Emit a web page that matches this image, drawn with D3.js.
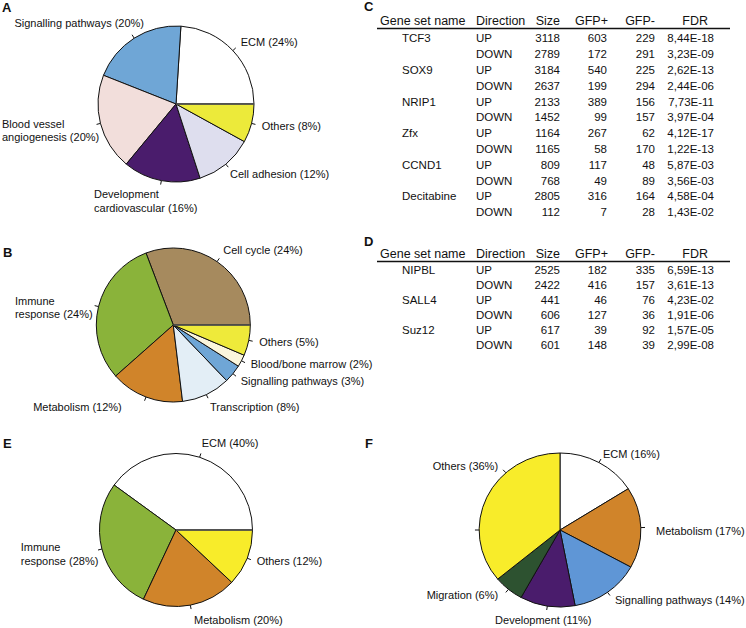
<!DOCTYPE html>
<html><head><meta charset="utf-8">
<script src="https://cdn.jsdelivr.net/npm/d3@7"></script>
<style>
body{margin:0;background:#fff}
text{font-family:Arial,"Liberation Sans",sans-serif;fill:#111}
</style>
</head><body>
<svg id="c" width="746" height="628"></svg>
<script>
// ---------- DATA ----------
// Panel A
const catA = ["ECM (24%)","Signalling pathways (20%)","Blood vessel\nangiogenesis (20%)","Development\ncardiovascular (16%)","Cell adhesion (12%)","Others (8%)"];
const valA = [24,20,20,16,12,8];
// Panel B
const catB = ["Cell cycle (24%)","Immune\nresponse (24%)","Metabolism (12%)","Transcription (8%)","Signalling pathways (3%)","Blood/bone marrow (2%)","Others (5%)"];
const valB = [24,24,12,8,3,2,5];
// Panel E
const catE = ["ECM (40%)","Immune\nresponse (28%)","Metabolism (20%)","Others (12%)"];
const valE = [40,28,20,12];
// Panel F
const catF = ["ECM (16%)","Metabolism (17%)","Signalling pathways (14%)","Development (11%)","Migration (6%)","Others (36%)"];
const valF = [16,17,14,11,6,36];

// Table C
const headers = ["Gene set name","Direction","Size","GFP+","GFP-","FDR"];
const directions = ["UP","DOWN"];
const genesC = ["TCF3","SOX9","NRIP1","Zfx","CCND1","Decitabine"];
const sizeC = [3118,2789,3184,2637,2133,1452,1164,1165,809,768,2805,112];
const gfpPlusC = [603,172,540,199,389,99,267,58,117,49,316,7];
const gfpMinusC = [229,291,225,294,156,157,62,170,48,89,164,28];
const fdrC = ["8,44E-18","3,23E-09","2,62E-13","2,44E-06","7,73E-11","3,97E-04","4,12E-17","1,22E-13","5,87E-03","3,56E-03","4,58E-04","1,43E-02"];
// Table D
const genesD = ["NIPBL","SALL4","Suz12"];
const sizeD = [2525,2422,441,606,617,601];
const gfpPlusD = [182,416,46,127,39,148];
const gfpMinusD = [335,157,76,36,92,39];
const fdrD = ["6,59E-13","3,61E-13","4,23E-02","1,91E-06","1,57E-05","2,99E-08"];

// ---------- STYLE / LAYOUT ----------
const colA = ["#ffffff","#6fa6d6","#f2dedb","#4a1c6c","#dedeee","#ecea3a"];
const colB = ["#a68a5e","#8ab33a","#d0842a","#e3eef6","#6fa6d6","#fbf6dc","#eeea3a"];
const colE = ["#ffffff","#8ab33a","#d0842a","#f8ec2a"];
const colF = ["#ffffff","#d0842a","#5f96d6","#4a1c6c","#2d5230","#f8ec2a"];

const svg = d3.select("#c");

function drawPie(spec){
  const g = svg.append("g");
  const sx = spec.sx || 1;
  const pie = d3.pie().sort(null).value(d=>d);
  if(spec.ccw) pie.startAngle(Math.PI/2).endAngle(Math.PI/2 - 2*Math.PI);
  const arcs = pie(spec.values);
  const arc = d3.arc().innerRadius(0).outerRadius(spec.r);
  const pg = g.append("g").attr("transform",`translate(${spec.cx},${spec.cy}) scale(${sx},1)`);
  pg.selectAll("path").data(arcs).join("path")
    .attr("d",arc).attr("fill",(d,i)=>spec.colors[i])
    .attr("stroke","#111").attr("stroke-width",1).attr("stroke-linejoin","round")
    .attr("vector-effect","non-scaling-stroke");
  if(spec.ccw){
    pg.append("line").attr("x1",0).attr("y1",0).attr("x2",spec.r).attr("y2",0)
      .attr("stroke","#555").attr("stroke-width",1.6).attr("vector-effect","non-scaling-stroke");
  }
  const pt=(a,R)=>[spec.cx+R*Math.sin(a)*sx, spec.cy-R*Math.cos(a)];
  const tick=(a)=>{
    const p0=pt(a,spec.r), p1=pt(a,spec.r+4);
    g.append("line").attr("x1",p0[0]).attr("y1",p0[1]).attr("x2",p1[0]).attr("y2",p1[1])
      .attr("stroke","#111").attr("stroke-width",1);
    return p1;
  };
  arcs.forEach((d,i)=>{
    const ov = spec.tickAngles && spec.tickAngles[i]!=null;
    const a = ov ? spec.tickAngles[i]*Math.PI/180 : (d.startAngle+d.endAngle)/2;
    const p1 = tick(a);
    const off = spec.offsets[i];
    const x = p1[0]+off[0], y = p1[1]+off[1];
    const t = g.append("text").attr("font-size",11).attr("text-anchor",off[2]);
    spec.labels[i].split("\n").forEach((l,j)=>{
      t.append("tspan").attr("x",x).attr("y",y+j*13.5).text(l);
    });
  });
  (spec.extraTicks||[]).forEach(a=>tick(a*Math.PI/180));
}

drawPie({cx:176,cy:104,r:78,ccw:true,values:valA,colors:colA,labels:catA,
  offsets:[[5,-1.5,"start"],[12,-7.8,"end"],[-94.6,3.6,"start"],[-66.6,13.8,"start"],[1.8,10.8,"start"],[6.3,5.6,"start"]]});
drawPie({cx:173.3,cy:325,r:77,ccw:true,values:valB,colors:colB,labels:catB,
  offsets:[[4,-4.3,"start"],[-79.7,-1,"start"],[-22.8,10.6,"end"],[2,13.2,"start"],[4.6,8.8,"start"],[5.7,5.3,"start"],[6.6,4.6,"start"]]});
drawPie({cx:176,cy:530,r:76.5,ccw:true,values:valE,colors:colE,labels:catE,
  offsets:[[0.8,-6.1,"start"],[-77.3,1.3,"start"],[2.9,14.9,"start"],[5.8,5.4,"start"]]});
drawPie({cx:560,cy:530,r:77,sx:1.05,ccw:false,values:valF,colors:colF,labels:catF,
  tickAngles:[null,null,null,null,null,318],extraTicks:[270],
  offsets:[[2,-1,"start"],[11,7.5,"start"],[5,8.5,"start"],[-3.4,14,"middle"],[-7.6,6.6,"end"],[-5,0,"end"]]});

// panel letters
const letters = [["A",2,12],["B",3,257],["C",364,11],["D",364,246],["E",3,448],["F",365,448]];
svg.selectAll("text.lt").data(letters).join("text").attr("class","lt")
  .attr("x",d=>d[1]).attr("y",d=>d[2]).attr("font-size",13).attr("font-weight","bold").text(d=>d[0]);

// tables
function drawTable(spec){
  const g = svg.append("g");
  const hx = [[380,"start"],[476,"start"],[560,"end"],[608,"end"],[655,"end"],[708,"end"]];
  headers.forEach((h,i)=>g.append("text").attr("x",hx[i][0]).attr("y",spec.headY)
    .attr("text-anchor",hx[i][1]).attr("font-size",12.5).text(h));
  g.append("line").attr("x1",377).attr("x2",730).attr("y1",spec.lineY).attr("y2",spec.lineY)
    .attr("stroke","#111").attr("stroke-width",1.3);
  const y = d3.scaleLinear().domain([0,1]).range([spec.row0, spec.row0+spec.step]);
  const rows = spec.size.map((s,i)=>({gene: i%2===0 ? spec.genes[i/2] : "", dir: directions[i%2],
     size:s, gp:spec.gp[i], gm:spec.gm[i], fdr:spec.fdr[i], i}));
  const cols = [[d=>d.gene,402,"start"],[d=>d.dir,476,"start"],[d=>d.size,560,"end"],[d=>d.gp,607,"end"],[d=>d.gm,655,"end"],[d=>d.fdr,714,"end"]];
  cols.forEach(c=>{
    g.selectAll(null).data(rows).join("text").attr("x",c[1]).attr("y",d=>y(d.i))
      .attr("text-anchor",c[2]).attr("font-size",11.5).text(c[0]);
  });
}
drawTable({headY:25,lineY:28.5,row0:42.3,step:15.8,genes:genesC,size:sizeC,gp:gfpPlusC,gm:gfpMinusC,fdr:fdrC});
drawTable({headY:258,lineY:261.5,row0:273.5,step:15.1,genes:genesD,size:sizeD,gp:gfpPlusD,gm:gfpMinusD,fdr:fdrD});
</script>
</body></html>
